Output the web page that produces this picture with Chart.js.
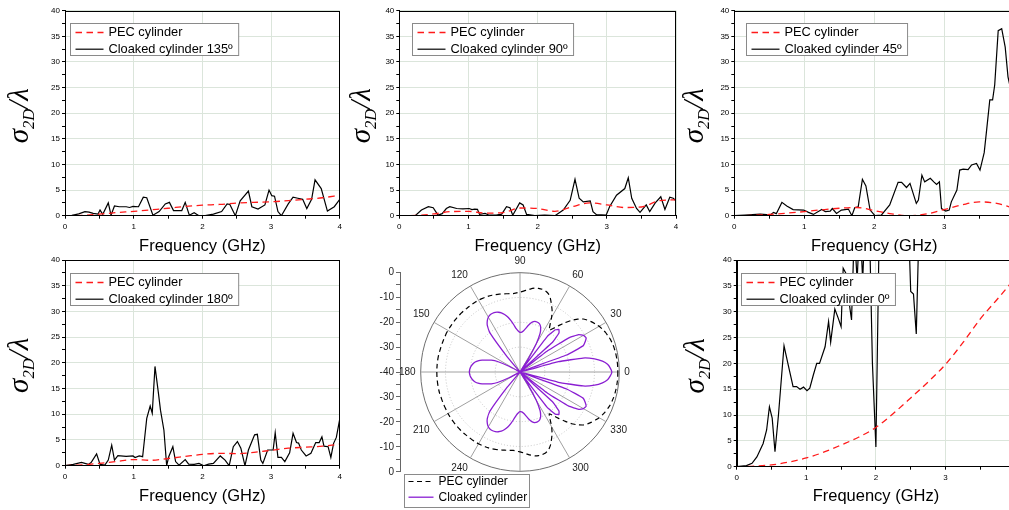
<!DOCTYPE html>
<html lang="en">
<head>
<meta charset="UTF-8">
<title>Scattering width - cloaked vs PEC cylinder</title>
<style>
  html, body { margin: 0; padding: 0; background: #fff; }
  body { width: 1009px; height: 510px; overflow: hidden; position: relative; }
  canvas { position: absolute; }
</style>
<script src="https://cdn.jsdelivr.net/npm/chart.js"></script>
</head>
<body>
<canvas id="p135" width="345" height="258" style="left:0px;top:0px"></canvas>
<canvas id="p90" width="340" height="258" style="left:345px;top:0px"></canvas>
<canvas id="p45" width="345" height="258" style="left:680px;top:0px"></canvas>
<canvas id="p180" width="345" height="258" style="left:0px;top:250px"></canvas>
<canvas id="polarAxis" width="60" height="222" style="left:345px;top:262px"></canvas>
<canvas id="polar" width="243" height="262" style="left:393px;top:251px"></canvas>
<canvas id="p0" width="345" height="258" style="left:680px;top:250px"></canvas>

<script>
  // ---- data ----
  // PEC cylinder curves, sampled every 0.25 GHz
  const pecF   = [0, 0.25, 0.5, 0.75, 1, 1.25, 1.5, 1.75, 2, 2.25, 2.5, 2.75, 3, 3.25, 3.5, 3.75, 4];
  const pec135 = [0, 0.05, 0.3, 0.6, 0.85, 1.15, 1.45, 1.8, 2.05, 2.2, 2.45, 2.6, 2.7, 2.95, 3.2, 3.5, 4.0];
  const pec90  = [0, 0.05, 0.35, 0.8, 0.85, 0.5, 0.6, 1.5, 1.4, 0.85, 1.75, 2.5, 2.1, 1.6, 1.7, 2.9, 3.1];
  const pec45  = [0, 0.05, 0.25, 0.5, 0.8, 1.15, 1.45, 1.6, 1.0, 0.35, 0.0, 0.35, 1.2, 2.1, 2.7, 2.4, 1.4];
  const pec180 = [0, 0.15, 0.45, 0.8, 1.2, 1.05, 1.4, 1.8, 2.2, 2.4, 2.35, 2.6, 3.0, 3.4, 3.6, 3.8, 4.2];
  const pec0   = [0, 0.1, 0.35, 0.9, 1.7, 2.8, 4.2, 5.7, 7.6, 10.3, 13.3, 16.4, 19.8, 24.0, 28.6, 32.5, 36.5];

  // cloaked cylinder, 135 deg
  const f135 = [0, 0.1, 0.2, 0.29, 0.35, 0.41, 0.48, 0.51, 0.55, 0.63, 0.67, 0.72, 0.79, 0.89, 0.94, 0.99, 1.07, 1.14, 1.19, 1.28, 1.37, 1.46, 1.52, 1.58, 1.7, 1.75, 1.81, 1.88, 1.95, 2.04, 2.16, 2.28, 2.36, 2.4, 2.48, 2.55, 2.67, 2.72, 2.81, 2.91, 2.97, 3.01, 3.05, 3.1, 3.15, 3.25, 3.32, 3.39, 3.46, 3.52, 3.59, 3.64, 3.73, 3.82, 3.92, 4.0];
  const s135 = [0, 0.05, 0.35, 0.8, 0.7, 0.45, 0.3, 1.1, 0.26, 2.5, 0.1, 1.9, 1.75, 1.75, 1.6, 1.8, 1.75, 3.6, 3.5, 0.1, 0.8, 2.3, 2.6, 1.0, 1.0, 2.6, 0.1, 0.6, 0, 0, 0.3, 0.8, 2.3, 2.2, 0, 2.9, 4.8, 1.75, 1.3, 2.1, 5.0, 3.9, 3.8, 0.8, 0, 2.3, 3.6, 3.4, 3.2, 1.4, 3.2, 7.0, 5.3, 0.9, 1.75, 3.2];

  // cloaked cylinder, 90 deg
  const f90 = [0, 0.23, 0.32, 0.42, 0.49, 0.56, 0.62, 0.68, 0.73, 0.83, 0.92, 1.01, 1.05, 1.09, 1.13, 1.16, 1.24, 1.3, 1.4, 1.48, 1.55, 1.6, 1.64, 1.74, 1.79, 1.84, 1.96, 2.1, 2.25, 2.37, 2.47, 2.54, 2.6, 2.66, 2.76, 2.8, 2.85, 2.92, 2.99, 3.04, 3.14, 3.26, 3.31, 3.36, 3.43, 3.48, 3.57, 3.62, 3.7, 3.78, 3.84, 3.91, 3.96, 4.0];
  const s90 = [0, 0, 1.1, 1.75, 1.55, 0.1, 0.4, 1.4, 1.75, 1.4, 1.35, 1.4, 1.2, 1.3, 1.25, 0.25, 0.45, 0.1, 0.1, 0.3, 1.75, 1.55, 0.1, 2.5, 2.1, 0.25, 0, 0.1, 0, 1.1, 3.0, 7.1, 3.4, 2.7, 2.9, 0.8, 0.2, 0.15, 0.1, 1.75, 4.0, 5.3, 7.4, 3.4, 1.4, 0.65, 2.1, 0.8, 2.5, 3.7, 1.2, 3.6, 3.4, 2.9];

  // cloaked cylinder, 45 deg
  const f45 = [0, 0.15, 0.37, 0.46, 0.5, 0.56, 0.6, 0.68, 0.75, 0.84, 0.99, 1.06, 1.13, 1.25, 1.3, 1.37, 1.4, 1.46, 1.53, 1.63, 1.68, 1.72, 1.77, 1.83, 1.88, 1.94, 2.01, 2.1, 2.22, 2.34, 2.39, 2.46, 2.51, 2.6, 2.63, 2.68, 2.72, 2.8, 2.85, 2.89, 2.93, 2.96, 3.02, 3.07, 3.1, 3.18, 3.22, 3.27, 3.34, 3.39, 3.46, 3.51, 3.57, 3.6, 3.65, 3.69, 3.72, 3.77, 3.82, 3.87, 3.91, 3.94, 4.0];
  const s45 = [0, 0.1, 0.3, 0.2, 0, 0.65, 0.4, 2.6, 1.9, 1.2, 1.1, 0.65, 0.25, 1.2, 0.8, 0.9, 1.4, 0.45, 1.1, 1.3, 0, 1.55, 1.75, 7.1, 5.8, 1.1, 0, 0.1, 2.1, 6.5, 6.5, 5.5, 6.3, 2.4, 3.05, 7.9, 6.6, 7.3, 6.6, 6.1, 6.6, 1.4, 0.9, 1.1, 2.7, 5.0, 8.9, 9.1, 9.0, 9.9, 10.2, 8.9, 12.3, 16.1, 22.6, 22.6, 25.5, 36.1, 36.5, 32.9, 27.1, 25.2, 19];

  // cloaked cylinder, 180 deg
  const f180 = [0, 0.12, 0.24, 0.34, 0.38, 0.46, 0.51, 0.58, 0.63, 0.68, 0.72, 0.77, 0.89, 0.99, 1.02, 1.08, 1.13, 1.19, 1.24, 1.27, 1.31, 1.36, 1.39, 1.44, 1.48, 1.51, 1.57, 1.61, 1.66, 1.75, 1.8, 1.88, 1.95, 2.02, 2.09, 2.16, 2.26, 2.33, 2.39, 2.45, 2.51, 2.56, 2.62, 2.67, 2.76, 2.8, 2.85, 2.88, 2.95, 3.03, 3.06, 3.1, 3.15, 3.2, 3.27, 3.32, 3.37, 3.4, 3.44, 3.51, 3.58, 3.65, 3.7, 3.74, 3.77, 3.83, 3.87, 3.91, 3.95, 4.0];
  const s180 = [0, 0.25, 0.65, 0.25, 0.6, 2.3, 0.25, 0.1, 1.1, 4.0, 1.1, 1.95, 1.8, 1.9, 1.6, 1.9, 1.75, 9.2, 11.6, 10.2, 19.3, 14.1, 10.8, 6.9, 0, 1.75, 3.7, 0.8, 0.1, 1.2, 0.3, 0.25, 0.45, 0, 0.3, 0.45, 1.9, 1.1, 0, 3.7, 4.7, 3.4, 0, 3.05, 6.0, 6.1, 1.1, 0.45, 3.05, 3.05, 6.4, 1.6, 1.6, 0.8, 2.5, 6.3, 4.5, 4.4, 3.05, 1.9, 2.4, 4.5, 4.5, 5.6, 3.8, 3.7, 1.6, 4.35, 5.5, 9.1];

  // cloaked cylinder, 0 deg (runs off the top of the axis)
  const f0 = [0, 0.14, 0.22, 0.29, 0.38, 0.43, 0.47, 0.51, 0.55, 0.6, 0.68, 0.74, 0.81, 0.86, 0.91, 0.96, 1.01, 1.05, 1.1, 1.15, 1.19, 1.27, 1.32, 1.35, 1.41, 1.46, 1.5, 1.53, 1.57, 1.62, 1.65, 1.69, 1.73, 1.77, 1.81, 1.85, 1.91, 1.95, 2.0, 2.05, 2.2, 2.45, 2.5, 2.54, 2.58, 2.63, 2.8, 3.2, 4.0];
  const s0 = [0, 0.2, 0.65, 1.9, 4.5, 7.1, 11.6, 9.4, 2.9, 10, 23.4, 19.7, 15.5, 15.5, 15.0, 15.4, 14.7, 15.2, 17.7, 20, 20, 23.2, 28.1, 24.1, 30.5, 28.7, 27.1, 38.4, 37.4, 31.3, 28.4, 46, 36, 48, 36, 50, 45, 20, 3.8, 48, 60, 55, 33.9, 33.4, 25.7, 52, 60, 60, 60];

  // polar pattern (dB), every 2.5 deg counter-clockwise from 0
  const polarAngles = Array.from({length: 144}, (_, i) => i * 2.5);
  const polarTickLabels = ['0', '30', '60', '90', '120', '150', '180', '210', '240', '300', '330'];
  const pecDb = [
    -0.6, -0.6, -0.6, -0.65, -0.7, -0.8, -0.9, -1.1, -1.3, -1.7,          //   0 - 22.5
    -2.1, -2.6, -3.2, -4.0, -4.8, -5.7, -6.8, -8.5, -10.5, -13,           //  25 - 47.5
    -15.5, -17.8, -19.5, -17.5, -14.5, -12, -10, -8, -6.5, -5.8,          //  50 - 72.5
    -5.5, -5.5, -5.7, -6.2, -6.8, -7.4, -7.8, -8.1, -8.3, -8.2,           //  75 - 97.5
    -8.0, -7.8, -7.5, -7.3, -7.1, -6.9, -6.8, -6.7, -6.6, -6.6,           // 100 - 122.5
    -6.6, -6.6, -6.6, -6.5, -6.5, -6.5, -6.5, -6.5, -6.5, -6.5,           // 125 - 147.5
    -6.5, -6.5, -6.6, -6.6, -6.6, -6.6, -6.6, -6.5, -6.5, -6.5,           // 150 - 172.5
    -6.5, -6.5, -6.5, -6.5, -6.5, -6.5, -6.5, -6.5, -6.5, -6.6,           // 175 - 197.5
    -6.6, -6.6, -6.6, -6.6, -6.5, -6.5, -6.5, -6.5, -6.5, -6.5,           // 200 - 222.5
    -6.5, -6.5, -6.6, -6.6, -6.6, -6.6, -6.6, -6.7, -6.8, -6.9,           // 225 - 247.5
    -7.1, -7.3, -7.5, -7.8, -8.0, -8.2, -8.3, -8.1, -7.8, -7.4,           // 250 - 272.5
    -6.8, -6.2, -5.7, -5.5, -5.5, -5.8, -6.5, -8, -10, -12,               // 275 - 297.5
    -14.5, -17.5, -19.5, -17.8, -15.5, -13, -10.5, -8.5, -6.8, -5.7,      // 300 - 322.5
    -4.8, -4.0, -3.2, -2.6, -2.1, -1.7, -1.3, -1.1, -0.9, -0.8,           // 325 - 347.5
    -0.7, -0.65, -0.6, -0.6                                               // 350 - 357.5
  ];
  const cloakDb = [
    -3.0, -3.6, -4.6, -6.5, -9.5, -14, -24, -40, -20, -12.5,              //   0 - 22.5
    -11, -10, -10.5, -12, -16, -26, -40, -22, -17.8, -16.8,               //  25 - 47.5
    -17.8, -22, -40, -34, -27, -22.5, -20.3, -19.2, -18.8, -18.7,         //  50 - 72.5
    -19, -19.8, -21, -22.3, -23.3, -23.9, -24, -23.5, -22.5, -20.8,       //  75 - 97.5
    -19, -17.3, -16, -15, -14.4, -14, -13.9, -14, -14.5, -15.5,           // 100 - 122.5
    -17, -20, -32, -40, -40, -40, -40, -40, -40, -40,                     // 125 - 147.5
    -40, -35, -30, -27.5, -26, -24, -22.5, -21.5, -20.8, -20.3,           // 150 - 172.5
    -19.9, -19.7, -19.6, -19.7, -19.9, -20.3, -20.8, -21.5, -22.5, -24,   // 175 - 197.5
    -26, -27.5, -30, -35, -40, -40, -40, -40, -40, -40,                   // 200 - 222.5
    -40, -40, -32, -20, -17, -15.5, -14.5, -14, -13.9, -14,               // 225 - 247.5
    -14.4, -15, -16, -17.3, -19, -20.8, -22.5, -23.5, -24, -23.9,         // 250 - 272.5
    -23.3, -22.3, -21, -19.8, -19, -18.7, -18.8, -19.2, -20.3, -22.5,     // 275 - 297.5
    -27, -34, -40, -22, -17.8, -16.8, -17.8, -22, -40, -26,               // 300 - 322.5
    -16, -12, -10.5, -10, -11, -12.5, -20, -40, -24, -14,                 // 325 - 347.5
    -9.5, -6.5, -4.6, -3.6                                                // 350 - 357.5
  ];

  const FONT = '"Liberation Sans", Arial, sans-serif';
  Chart.defaults.font.family = FONT;
  Chart.defaults.color = '#000';

  const pts = (xs, ys) => xs.map((x, i) => ({x: x, y: ys[i]}));

  // frame, in-plot legend and the y title (sigma_2D / lambda)
  const panelDeco = {
    id: 'panelDeco',
    afterDatasetsDraw(chart, args, o) {
      const ctx = chart.ctx, a = chart.chartArea;
      ctx.save();
      ctx.strokeStyle = '#000';
      ctx.lineWidth = 1;
      ctx.strokeRect(Math.round(a.left) + 0.5, Math.round(a.top) + 0.5,
                     Math.round(a.right - a.left) - 1, Math.round(a.bottom - a.top) - 1);

      // legend box
      ctx.font = '12.8px ' + FONT;
      const sets = chart.data.datasets;
      const tw = Math.max(...sets.map(d => ctx.measureText(d.label).width));
      const bx = Math.round(a.left + o.legendX) + 0.5, by = Math.round(a.top + 12.6) + 0.5;
      const bw = 38 + tw + 6, bh = 32;
      ctx.fillStyle = '#fff';
      ctx.fillRect(bx, by, bw, bh);
      ctx.strokeStyle = '#8a8a8a';
      ctx.strokeRect(bx, by, bw, bh);
      sets.forEach((d, i) => {
        const y = by + 9 + i * 16.7;
        ctx.strokeStyle = d.borderColor;
        ctx.lineWidth = d.borderWidth;
        ctx.setLineDash(d.borderDash || []);
        ctx.beginPath();
        ctx.moveTo(bx + 5, y);
        ctx.lineTo(bx + 33, y);
        ctx.stroke();
        ctx.setLineDash([]);
        ctx.fillStyle = '#000';
        ctx.textBaseline = 'middle';
        ctx.textAlign = 'left';
        ctx.fillText(d.label, bx + 38, y);
      });

      // rotated y title with subscript
      ctx.translate(a.left + o.yTitleX, (a.top + a.bottom) / 2 + 2.5);
      ctx.rotate(-Math.PI / 2);
      const big = 'italic 29px "Liberation Serif", serif';
      const small = 'italic 16.5px "Liberation Serif", serif';
      ctx.font = big;
      const w1 = ctx.measureText('σ').width, w3 = ctx.measureText('/λ').width;
      ctx.font = small;
      const w2 = ctx.measureText('2D').width;
      let x = -(w1 + w2 + w3) / 2;
      ctx.fillStyle = '#000';
      ctx.textBaseline = 'alphabetic';
      ctx.font = big; ctx.fillText('σ', x, 0); x += w1;
      ctx.font = small; ctx.fillText('2D', x, 5.5); x += w2;
      ctx.font = big; ctx.fillText('/λ', x, 0);
      ctx.restore();
    }
  };

  function makePanel(id, cloakF, cloakS, pec, label, p) {
    new Chart(document.getElementById(id), {
      type: 'line',
      data: {
        datasets: [
          {label: 'PEC cylinder', data: pts(pecF, pec), borderColor: '#ff1a1a', borderWidth: 1.3,
           borderDash: [6.5, 4.5], pointRadius: 0, cubicInterpolationMode: 'monotone', fill: false},
          {label: label, data: pts(cloakF, cloakS), borderColor: '#000', borderWidth: 1.2,
           pointRadius: 0, tension: 0, fill: false}
        ]
      },
      options: {
        responsive: false,
        animation: false,
        events: [],
        layout: {padding: {left: 0, top: p.top, right: p.right, bottom: 0}},
        plugins: {
          legend: {display: false},
          tooltip: {enabled: false},
          panelDeco: {legendX: p.legendX, yTitleX: p.yTitleX}
        },
        scales: {
          x: {
            type: 'linear', min: 0, max: 4,
            afterFit: s => { s.height = p.xh; },
            ticks: {stepSize: 0.5, autoSkip: false, maxRotation: 0, padding: 3,
                    font: {size: 8}, color: '#000',
                    callback: v => Number.isInteger(v) ? v : ''},
            grid: {color: c => (c.tick && Number.isInteger(c.tick.value)) ? '#dbe5db' : 'rgba(0,0,0,0)',
                   tickColor: '#000', tickLength: 3},
            border: {color: '#000', width: 1},
            title: {display: true, text: 'Frequency (GHz)', color: '#000',
                    font: {size: 16.5}, padding: {top: 0, bottom: 1.6}}
          },
          y: {
            min: 0, max: 40,
            afterFit: s => { s.width = p.yw; },
            ticks: {stepSize: 2.5, autoSkip: false, padding: 2, font: {size: 8}, color: '#000',
                    callback: v => v % 5 === 0 ? v : ''},
            grid: {color: c => (c.tick && c.tick.value % 5 === 0) ? '#dbe5db' : 'rgba(0,0,0,0)',
                   tickColor: '#000', tickLength: 3},
            border: {color: '#000', width: 1}
          }
        }
      },
      plugins: [panelDeco]
    });
  }

  makePanel('p135', f135, s135, pec135, 'Cloaked cylinder 135º',
            {yw: 65, top: 10.7, right: 2.3, xh: 42.3, legendX: 5, yTitleX: -37});
  makePanel('p90', f90, s90, pec90, 'Cloaked cylinder 90º',
            {yw: 54.3, top: 10.7, right: 9, xh: 42.3, legendX: 12.4, yTitleX: -29.3});
  makePanel('p45', f45, s45, pec45, 'Cloaked cylinder 45º',
            {yw: 54.3, top: 10.7, right: 10.7, xh: 42.3, legendX: 11.4, yTitleX: -31.3});
  makePanel('p180', f180, s180, pec180, 'Cloaked cylinder 180º',
            {yw: 65, top: 10, right: 2.3, xh: 42.3, legendX: 5, yTitleX: -37});
  makePanel('p0', f0, s0, pec0, 'Cloaked cylinder 0º',
            {yw: 56.7, top: 10, right: 9.9, xh: 41.3, legendX: 4.3, yTitleX: -32.7});

  // ---- polar pattern ----
  // radar runs clockwise from the right, so angle (360 - 2.5i) sits at index i
  const n = polarAngles.length;
  const order = polarAngles.map((_, i) => (n - i) % n);
  const radarLabels = order.map(k => polarTickLabels.includes(String(polarAngles[k])) ? String(polarAngles[k]) : '');

  const polarLegend = {
    id: 'polarLegend',
    afterDatasetsDraw(chart) {
      const ctx = chart.ctx;
      ctx.save();
      const bx = 11.5, by = 223.5, bw = 125, bh = 33;
      ctx.fillStyle = '#fff';
      ctx.fillRect(bx, by, bw, bh);
      ctx.strokeStyle = '#8a8a8a';
      ctx.lineWidth = 1;
      ctx.strokeRect(bx, by, bw, bh);
      ctx.font = '12px ' + FONT;
      chart.data.datasets.forEach((d, i) => {
        const y = by + 7 + i * 15.7;
        ctx.strokeStyle = d.borderColor;
        ctx.lineWidth = d.borderWidth;
        ctx.setLineDash(d.borderDash || []);
        ctx.beginPath();
        ctx.moveTo(bx + 4, y);
        ctx.lineTo(bx + 29, y);
        ctx.stroke();
        ctx.setLineDash([]);
        ctx.fillStyle = '#000';
        ctx.textBaseline = 'middle';
        ctx.fillText(d.label, bx + 34, y);
      });
      ctx.restore();
    }
  };

  new Chart(document.getElementById('polar'), {
    type: 'radar',
    data: {
      labels: radarLabels,
      datasets: [
        {label: 'PEC cylinder', data: order.map(k => pecDb[k]), borderColor: '#000', borderWidth: 1.2,
         borderDash: [5, 3.5], pointRadius: 0, fill: false, tension: 0.1},
        {label: 'Cloaked cylinder', data: order.map(k => cloakDb[k]), borderColor: '#8a1ed2', borderWidth: 1.3,
         pointRadius: 0, fill: false, tension: 0.1}
      ]
    },
    options: {
      responsive: false,
      animation: false,
      events: [],
      layout: {padding: {left: 0, top: 0, right: 0, bottom: 19}},
      plugins: {legend: {display: false}, tooltip: {enabled: false}},
      scales: {
        r: {
          min: -40, max: 0, startAngle: 90,
          ticks: {display: false, stepSize: 10},
          grid: {circular: true, lineWidth: 1,
                 color: c => (c.tick && c.tick.value === 0) ? '#6e6e6e' : '#c4c4c4'},
          border: {dash: c => (c.tick && c.tick.value === 0) ? [] : [1, 2]},
          angleLines: {display: true, lineWidth: 1,
                       color: c => (c.index % 12 === 0) ? '#a0a0a0' : 'rgba(0,0,0,0)'},
          pointLabels: {display: true, padding: 5, color: '#222', font: {size: 10}}
        }
      }
    },
    plugins: [polarLegend]
  });

  // vertical dB axis beside the polar plot (0 at rim, -40 at centre)
  new Chart(document.getElementById('polarAxis'), {
    type: 'line',
    data: {datasets: []},
    options: {
      responsive: false,
      animation: false,
      events: [],
      layout: {padding: {left: 0, top: 10.2, right: 0, bottom: 12.2}},
      plugins: {legend: {display: false}, tooltip: {enabled: false}},
      scales: {
        x: {type: 'linear', display: false, min: 0, max: 1},
        y: {
          min: -40, max: 40,
          afterFit: s => { s.width = 55; },
          ticks: {stepSize: 5, autoSkip: false, padding: 2, font: {size: 10}, color: '#222',
                  callback: v => v % 10 === 0 ? String(Math.abs(v) - 40) : ''},
          grid: {drawOnChartArea: false, color: '#666', tickLength: 4},
          border: {color: '#666', width: 1}
        }
      }
    }
  });
</script>
</body>
</html>
